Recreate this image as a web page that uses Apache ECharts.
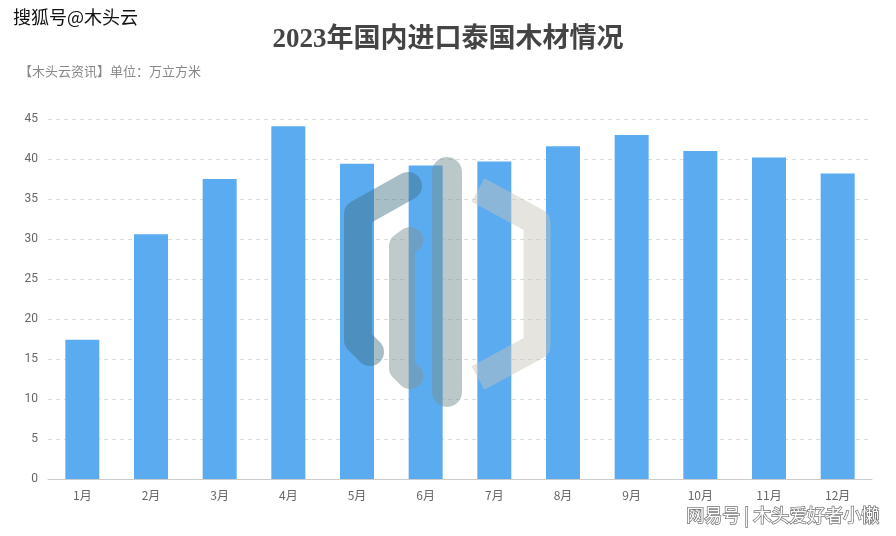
<!DOCTYPE html>
<html><head><meta charset="utf-8">
<script src="https://cdn.jsdelivr.net/npm/echarts@6/dist/echarts.min.js"></script>
<style>html,body{margin:0;padding:0;background:#fff}#c{width:896px;height:536px}</style>
</head><body><div id="c"></div>
<script>
const months = ['1月','2月','3月','4月','5月','6月','7月','8月','9月','10月','11月','12月'];
const imports = [17.4, 30.6, 37.5, 44.1, 39.4, 39.2, 39.7, 41.6, 43.0, 41.0, 40.2, 38.2];
const titleText = '2023年国内进口泰国木材情况';
const subtitleText = '【木头云资讯】单位：万立方米';

const chart = echarts.init(document.getElementById('c'), null, {renderer:'canvas'});
chart.setOption({
  animation:false,
  backgroundColor:'#fff',
  title:[{
    text:titleText, left:'center', top:22,
    textStyle:{fontFamily:'Liberation Serif, "Noto Sans CJK SC"', fontWeight:'bold', fontSize:27, color:'#444'}
  },{
    text:subtitleText, left:14, top:60,
    textStyle:{fontFamily:'"Noto Sans CJK SC", sans-serif', fontWeight:'normal', fontSize:13, color:'#888'}
  }],
  grid:{left:48, right:24, top:119, bottom:57, containLabel:false},
  xAxis:{
    type:'category', data:months,
    axisLine:{lineStyle:{color:'#ccc'}},
    axisTick:{alignWithLabel:true, length:5, lineStyle:{color:'#ccc'}},
    axisLabel:{color:'#666', fontSize:12, margin:10, fontFamily:'"Noto Sans CJK SC", sans-serif'}
  },
  yAxis:{
    type:'value', min:0, max:45, interval:5,
    axisLine:{show:false}, axisTick:{show:false},
    axisLabel:{color:'#666', fontSize:12, margin:10, fontFamily:'Roboto, sans-serif'},
    splitLine:{lineStyle:{color:'#ddd', type:[4,4]}}
  },
  series:[{
    type:'bar', data:imports, barWidth:34,
    itemStyle:{color:'#5BABF1'}
  }],
  graphic:[
    {type:'group', silent:true, z:100, children:[
      {type:'polyline', z:100, shape:{points:[[408,186],[358,214],[358,340],[370,352]]}, style:{stroke:'rgba(60,110,130,0.45)', lineWidth:28, fill:null, lineJoin:'round', lineCap:'round'}},
      {type:'polyline', z:100, shape:{points:[[410,240],[402,246],[402,368],[410,376]]}, style:{stroke:'rgba(130,150,150,0.5)', lineWidth:26, fill:null, lineJoin:'round', lineCap:'round'}},
      {type:'line', z:100, shape:{x1:447, y1:172, x2:447, y2:392}, style:{stroke:'rgba(120,145,150,0.5)', lineWidth:30, lineCap:'round'}},
      {type:'polyline', z:100, shape:{points:[[478,190],[537,222],[537,346],[478,378]]}, style:{stroke:'rgba(200,195,185,0.45)', lineWidth:27, fill:null, lineJoin:'round'}}
    ]},
    {type:'text', z:100, left:12, top:7, style:{text:'搜狐号@木头云', fontSize:18, fontFamily:'"Noto Sans CJK SC"', fill:'#111', stroke:'#fff', lineWidth:2}},
    {type:'text', z:100, right:16, top:505, style:{text:'网易号 | 木头爱好者小懒', fontSize:18, fontFamily:'"Noto Sans CJK SC"', fill:'#fff', stroke:'#777', lineWidth:1.5}}
  ]
});
</script></body></html>
